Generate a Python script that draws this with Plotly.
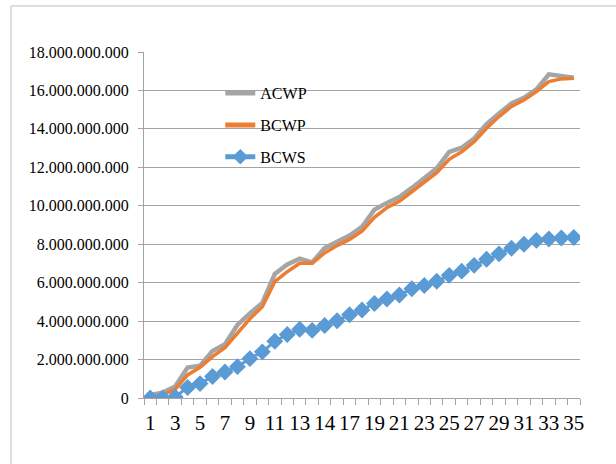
import plotly.graph_objects as go

# Period numbers (x positions) and the labels printed under every other period
periods = list(range(1, 36))
tick_positions = periods[::2]
tick_labels = ["1", "3", "5", "7", "9", "11", "13", "14", "17", "19", "21", "23",
               "25", "27", "29", "31", "33", "35"]

# Actual cost of work performed
acwp = [160000000, 280000000, 600000000, 1580000000, 1680000000, 2450000000,
        2800000000, 3800000000, 4400000000, 4950000000, 6450000000, 6950000000,
        7250000000, 7050000000, 7800000000, 8150000000, 8450000000, 8900000000,
        9800000000, 10150000000, 10450000000, 10930000000, 11430000000, 11950000000,
        12800000000, 13020000000, 13500000000, 14250000000, 14800000000, 15320000000,
        15620000000, 16050000000, 16840000000, 16750000000, 16660000000]

# Budgeted cost of work performed
bcwp = [70000000, 160000000, 450000000, 1200000000, 1600000000, 2150000000,
        2620000000, 3370000000, 4120000000, 4750000000, 6050000000, 6570000000,
        7010000000, 7010000000, 7550000000, 7930000000, 8250000000, 8680000000,
        9400000000, 9900000000, 10230000000, 10730000000, 11200000000, 11720000000,
        12420000000, 12810000000, 13330000000, 14030000000, 14640000000, 15170000000,
        15500000000, 15940000000, 16460000000, 16600000000, 16630000000]

# Budgeted cost of work scheduled
bcws = [0, 0, 50000000, 550000000, 750000000, 1120000000, 1350000000, 1630000000,
        2050000000, 2400000000, 2950000000, 3300000000, 3580000000, 3520000000,
        3770000000, 4020000000, 4330000000, 4580000000, 4920000000, 5150000000,
        5360000000, 5680000000, 5850000000, 6070000000, 6380000000, 6600000000,
        6900000000, 7220000000, 7500000000, 7790000000, 8000000000, 8200000000,
        8270000000, 8320000000, 8350000000]

FONT = "Liberation Serif"
GRID = "#a3a3a3"

fig = go.Figure()
fig.add_trace(go.Scatter(x=periods, y=acwp, name="ACWP", mode="lines",
                         legendgroup="a",
                         line=dict(color="#a5a5a5", width=4.5)))
fig.add_trace(go.Scatter(x=periods, y=bcwp, name="BCWP", mode="lines",
                         legendgroup="b",
                         line=dict(color="#ed7d31", width=3.5)))
fig.add_trace(go.Scatter(x=periods, y=bcws, name="BCWS", mode="lines+markers",
                         legendgroup="c",
                         line=dict(color="#5b9bd5", width=3),
                         marker=dict(symbol="diamond", size=13, color="#5b9bd5")))

fig.update_layout(
    width=616, height=464,
    margin=dict(l=144, r=36, t=52, b=66),
    paper_bgcolor="white", plot_bgcolor="white",
    separators=",.",
    font=dict(family=FONT, color="black", size=16),
    showlegend=True,
    legend=dict(x=0.175, y=0.93, xanchor="left", yanchor="top",
                bgcolor="rgba(0,0,0,0)", tracegroupgap=8,
                font=dict(family=FONT, size=16, color="black"),
                itemsizing="constant"),
    shapes=[dict(type="rect", xref="paper", yref="paper",
                 x0=-0.305, x1=1.2, y0=-0.25, y1=1.133,
                 line=dict(color="#bdbdbd", width=1))],
)

fig.update_xaxes(
    range=[0.5, 35.5], tickmode="array",
    tickvals=tick_positions, ticktext=tick_labels, tickangle=0,
    ticks="", showgrid=False, zeroline=False,
    showline=True, linecolor=GRID, linewidth=1,
    tickfont=dict(family=FONT, size=21, color="black"),
    ticklabelstandoff=6,
    minor=dict(tickmode="array",
               tickvals=[p - 0.5 for p in periods] + [periods[-1] + 0.5],
               ticks="outside", ticklen=6, tickcolor=GRID, tickwidth=1,
               showgrid=False),
)
fig.update_yaxes(
    range=[0, 18000000000], dtick=2000000000, tick0=0,
    tickformat=",.0f", showgrid=True, gridcolor=GRID, gridwidth=1,
    zeroline=False, showline=True, linecolor=GRID, linewidth=1,
    ticks="outside", ticklen=5, tickcolor=GRID,
    tickfont=dict(family=FONT, size=16, color="black"),
    ticklabelstandoff=6,
)

fig.write_html("out.html")
